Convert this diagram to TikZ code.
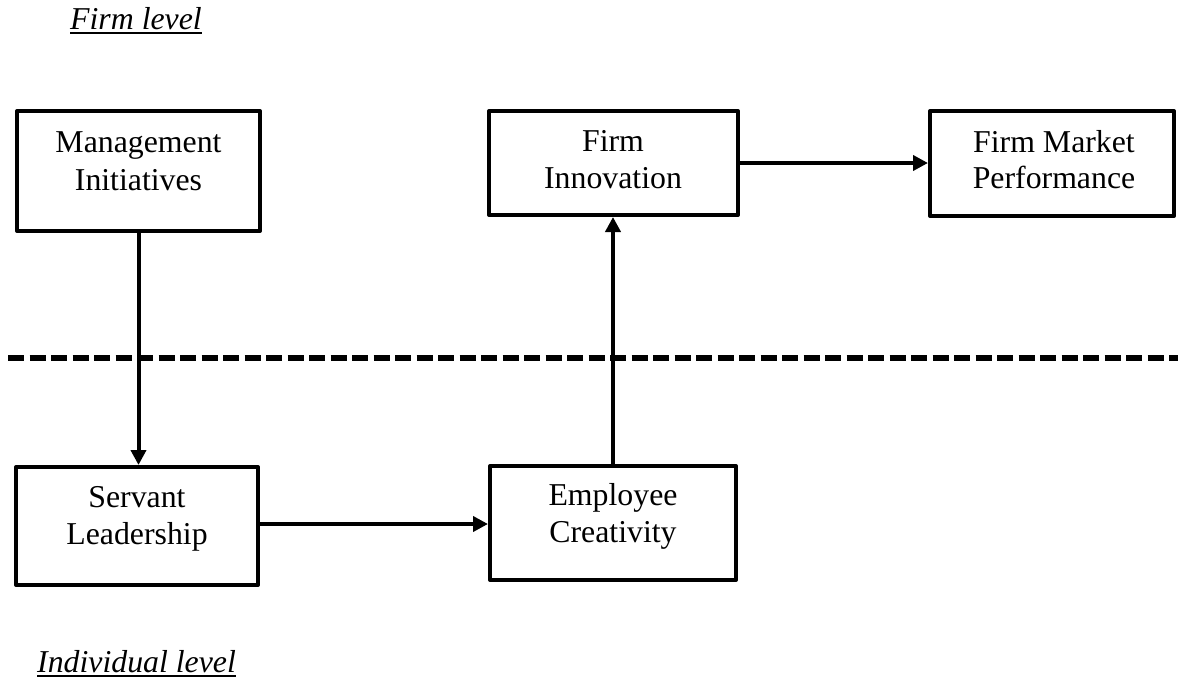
\documentclass[tikz,border=0pt]{standalone}
\usepackage{fontspec}
\setmainfont{Liberation Serif}
\usetikzlibrary{arrows.meta,calc}
\tikzset{
  box/.style={draw=black, line width=4pt, line join=round, rectangle, inner sep=0pt},
  txt/.style={inner sep=0pt, anchor=base, font=\fontsize{31.8}{38}\selectfont},
  lvl/.style={inner sep=0pt, anchor=base west, font=\fontsize{31.8}{38}\selectfont\itshape},
  arr/.style={line width=4pt, -{Triangle[length=15pt,width=15pt]}},
  uline/.style={line width=2.5pt},
  divider/.style={line width=5.5pt, dash pattern=on 16pt off 5.5pt}
}
\begin{document}
\begin{tikzpicture}[x=1pt,y=-1pt]
\useasboundingbox (0,0) rectangle (1179,680);
% boxes
\node[box, minimum width=243pt, minimum height=120pt] (mi) at (138.5,171) {};
\node[box, minimum width=249pt, minimum height=104pt] (fi) at (613.5,163) {};
\node[box, minimum width=244pt, minimum height=105pt] (fmp) at (1052,163.5) {};
\node[box, minimum width=242pt, minimum height=118pt] (sl) at (137,526) {};
\node[box, minimum width=246pt, minimum height=114pt] (ec) at (613,523) {};
% texts
\node[txt] (mit1) at (138.5,152) {Management};
\node[txt] (mit2) at (138.5,190) {Initiatives};
\node[txt] (fit1) at (613,151) {Firm};
\node[txt] (fit2) at (613,188) {Innovation};
\node[txt] (fmpt1) at (1054,152) {Firm Market};
\node[txt] (fmpt2) at (1054,188) {Performance};
\node[txt] (slt1) at (137,507) {Servant};
\node[txt] (slt2) at (137,544) {Leadership};
\node[txt] (ect1) at (613,505) {Employee};
\node[txt] (ect2) at (613,542) {Creativity};
% level labels
\node[lvl] (fl) at (70,29) {Firm level};
\draw[uline] ($(fl.base west)+(0,4)$) -- ($(fl.base east)+(0,4)$);
\node[lvl] (il) at (37,672) {Individual level};
\draw[uline] ($(il.base west)+(0,4)$) -- ($(il.base east)+(0,4)$);
% divider
\coordinate (dl) at (8,358);
\coordinate (dr) at (1178,358);
\draw[divider] (dl) -- (dr);
% connectors
\draw[arr] (mi.south) -- (mi.south |- sl.north);
\draw[arr] (ec.north) -- (ec.north |- fi.south);
\draw[arr] (fi.east) -- (fi.east -| fmp.west);
\draw[arr] ($(sl.east)+(0,-2)$) -- ($(sl.east -| ec.west)+(0,-2)$);
\end{tikzpicture}
\end{document}
